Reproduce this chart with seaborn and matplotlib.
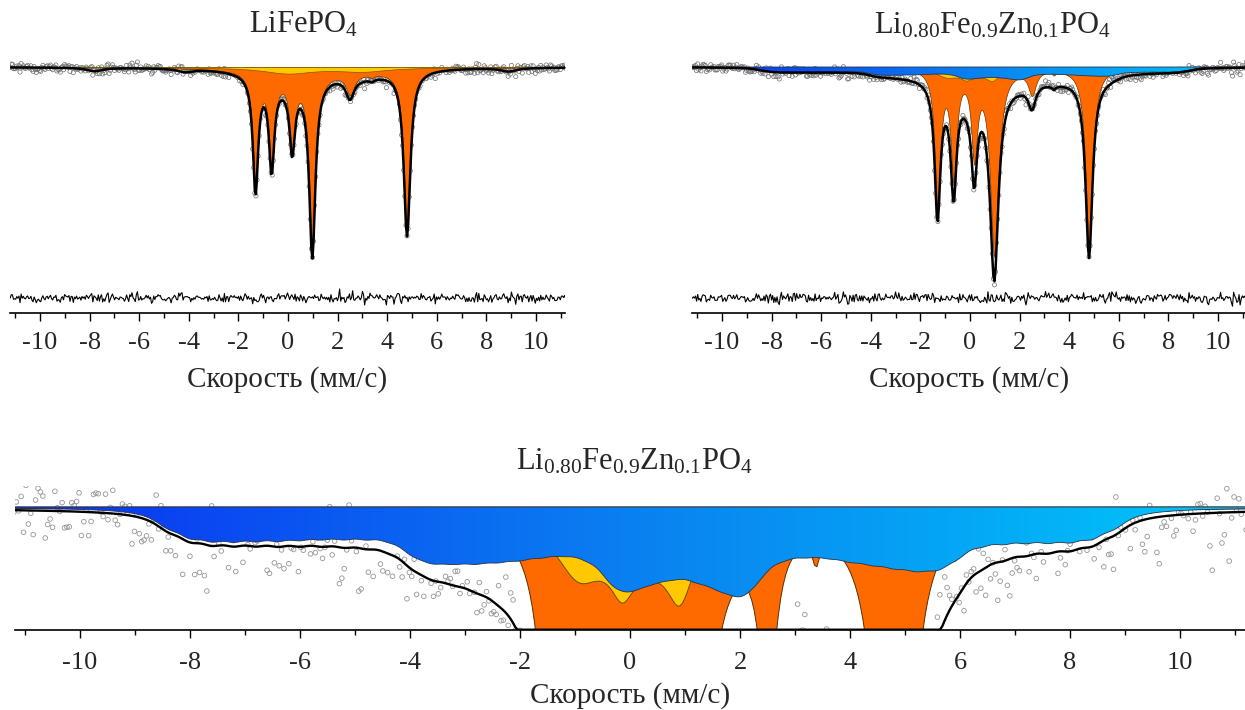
import numpy as np
import pandas as pd
import matplotlib
matplotlib.use("Agg")
import matplotlib.pyplot as plt
import seaborn as sns
from matplotlib.colors import LinearSegmentedColormap
from matplotlib.patches import PathPatch

# ------------------------------------------------------------------ data
velocity_ticks = [-10, -8, -6, -4, -2, 0, 2, 4, 6, 8, 10]
tick_labels = ["-10", "-8", "-6", "-4", "-2", "0", "2", "4", "6", "8", "10"]
minor_ticks = [-11, -9, -7, -5, -3, -1, 1, 3, 5, 7, 9, 11]
n_channels = 512
vel_range = (-11.2, 11.2)

# sharp Fe2+ lines (orange component), mm/s
orange_pos = [-1.31, -0.66, 0.17, 0.98, 2.50, 3.38, 4.80]

# LiFePO4 (% absorption, FWHM in mm/s)
lfp_orange_depth = [11.6, 8.9, 6.6, 17.6, 2.06, 0.25, 16.5]
lfp_orange_fwhm = [0.26, 0.26, 0.26, 0.30, 0.40, 0.20, 0.32]
lfp_broad_pos = [0.2, 3.3]
lfp_broad_depth = [0.9, 0.3]
lfp_broad_fwhm = [3.0, 2.6]
lfp_yellow_pos = [0.0, 3.0]
lfp_yellow_depth = [0.60, 0.40]
lfp_yellow_fwhm = [2.5, 2.5]
lfp_wing_pos = [-7.8, -4.15, 8.9]
lfp_wing_depth = [0.35, 0.30, 0.35]
lfp_wing_fwhm = [0.8, 0.7, 0.8]

# Li0.80Fe0.9Zn0.1PO4
lzf_orange_depth = [13.4, 10.6, 8.4, 18.6, 2.45, 0.35, 17.9]
lzf_orange_fwhm = [0.28, 0.28, 0.28, 0.40, 0.36, 0.15, 0.34]
lzf_yellow_pos = [0.3, -0.95, -0.15, 0.9]
lzf_yellow_depth = [0.72, 0.65, 0.5, 0.75]
lzf_yellow_fwhm = [2.5, 1.0, 0.5, 0.55]
lzf_extra_pos = [3.4]
lzf_extra_depth = [0.6]
lzf_extra_fwhm = [1.7]
# magnetic (blue) component: hyperfine splitting distribution
lzf_hf_split = [8.6, 8.2, 7.8, 7.4, 7.0, 6.6, 6.2, 5.8, 5.4, 5.0, 4.6,
                4.2, 3.8, 3.4, 3.0, 2.6, 2.2, 1.8, 1.4, 1.0, 0.6, 0.2]
lzf_hf_weight = [0.12, 0.19, 0.19, 0.18, 0.17, 0.17, 0.16, 0.15, 0.15, 0.14, 0.12,
                 0.11, 0.10, 0.09, 0.10, 0.10, 0.10, 0.10, 0.09, 0.09, 0.08, 0.06]
hf_step = 0.4
sextet_ratio = [3, 2, 1.0, 1.0, 2, 3]
sextet_factor = [-1.0, -0.579, -0.158, 0.158, 0.579, 1.0]
sextet_shift = [0.2, 0.95, 0.95, 0.95, 0.95, 0.2]
blue_fwhm = 0.62

noise_sigma = 0.25
residual_level = 76.9


def lorentz(x, pos, depth, fwhm):
    out = np.zeros_like(x)
    for p, d, w in zip(pos, depth, fwhm):
        out += d / (1.0 + ((x - p) / (w / 2.0)) ** 2)
    return out


def hf_distribution(x, splits, weights):
    out = np.zeros_like(x)
    for h, f in zip(splits, weights):
        for r, k, c in zip(sextet_ratio, sextet_factor, sextet_shift):
            area = f * hf_step * r
            depth = 2 * area / (np.pi * blue_fwhm)
            out += depth / (1.0 + ((x - (c + k * h)) / (blue_fwhm / 2.0)) ** 2)
    return out


v = np.linspace(vel_range[0], vel_range[1], n_channels)
rng = np.random.default_rng(11)

lfp_orange = lorentz(v, orange_pos, lfp_orange_depth, lfp_orange_fwhm) + \
    lorentz(v, lfp_broad_pos, lfp_broad_depth, lfp_broad_fwhm)
lfp_yellow = lorentz(v, lfp_yellow_pos, lfp_yellow_depth, lfp_yellow_fwhm)
lfp_wing = lorentz(v, lfp_wing_pos, lfp_wing_depth, lfp_wing_fwhm)
lfp_total = lfp_orange + lfp_yellow + lfp_wing
lfp_noise = rng.normal(0, noise_sigma, n_channels)

lzf_orange = lorentz(v, orange_pos, lzf_orange_depth, lzf_orange_fwhm)
lzf_yellow = lorentz(v, lzf_yellow_pos, lzf_yellow_depth, lzf_yellow_fwhm)
lzf_blue = hf_distribution(v, lzf_hf_split, lzf_hf_weight)
lzf_extra = lorentz(v, lzf_extra_pos, lzf_extra_depth, lzf_extra_fwhm)
lzf_total = lzf_orange + lzf_yellow + lzf_blue + lzf_extra
lzf_noise = rng.normal(0, noise_sigma, n_channels)

lfp = pd.DataFrame({"v": v, "fit": 100 - lfp_total, "data": 100 - lfp_total + lfp_noise,
                    "orange": 100 - lfp_orange, "yellow": 100 - lfp_yellow,
                    "resid": residual_level + lfp_noise})
lzf = pd.DataFrame({"v": v, "fit": 100 - lzf_total, "data": 100 - lzf_total + lzf_noise,
                    "orange": 100 - lzf_orange, "yellow": 100 - lzf_yellow,
                    "blue": 100 - lzf_blue, "resid": residual_level + lzf_noise})

# ------------------------------------------------------------------ style
sns.set_theme(style="ticks")
plt.rcParams["font.family"] = ["Liberation Serif", "DejaVu Serif"]
plt.rcParams["mathtext.fontset"] = "custom"
plt.rcParams["mathtext.rm"] = "Liberation Serif"
plt.rcParams["mathtext.it"] = "Liberation Serif:italic"

ORANGE = "#ff6a00"
YELLOW = "#ffc800"
blue_cmap = LinearSegmentedColormap.from_list("bl", ["#0a30f2", "#0a80f0", "#00c8fa"])

W, H = 1245, 710
fig = plt.figure(figsize=(W / 100, H / 100), dpi=100)


def px_axes(left, right, top, bottom):
    return fig.add_axes([left / W, (H - bottom) / H, (right - left) / W, (bottom - top) / H])


def style_axis(ax, xlim, ylim, labelsize, xlabelsize, pad, labelpad):
    ax.set_xlim(*xlim)
    ax.set_ylim(*ylim)
    for s in ["left", "right", "top"]:
        ax.spines[s].set_visible(False)
    ax.spines["bottom"].set_linewidth(1.2)
    ax.spines["bottom"].set_color("black")
    ax.set_yticks([])
    ax.set_xticks(velocity_ticks)
    ax.set_xticklabels(tick_labels)
    ax.set_xticks(minor_ticks, minor=True)
    ax.tick_params(axis="x", which="major", length=6, width=1.0, color="black",
                   labelsize=labelsize, pad=pad, direction="out")
    ax.tick_params(axis="x", which="minor", length=3.8, width=1.0, color="black", direction="out")
    ax.set_xlabel("Скорость (мм/с)", fontsize=xlabelsize, labelpad=labelpad)
    ax.set_ylabel("")
    ax.patch.set_alpha(0)


def gradient_fill(ax, x, y_top, y_bot, xlim, ylim, z):
    poly = ax.fill_between(x, y_top, y_bot, facecolor="none", edgecolor="#26324a",
                           linewidth=0.6, zorder=z + 0.1)
    grad = np.linspace(0, 1, 256).reshape(1, -1)
    img = ax.imshow(grad, extent=[xlim[0], xlim[1], ylim[0], ylim[1]], aspect="auto",
                    cmap=blue_cmap, zorder=z, origin="lower")
    patch = PathPatch(poly.get_paths()[0], transform=ax.transData, facecolor="none", edgecolor="none")
    img.set_clip_path(patch)


def scatter(ax, df, s, ec, lw, z):
    sns.scatterplot(data=df, x="v", y="data", ax=ax, marker="o", s=s, legend=False,
                    linewidth=lw, zorder=z)
    coll = ax.collections[-1]
    coll.set_facecolor("none")
    coll.set_edgecolor(ec)


# ---------------- top-left : LiFePO4
xlim_top = (-11.21, 11.17)
ylim_top = (75.4, 102.0)
ax1 = px_axes(10, 565, 47, 313)
scatter(ax1, lfp, 9, "#6e6e6e", 0.5, 1)
ax1.fill_between(v, 100, lfp["orange"], color=ORANGE, edgecolor="#6b3300", linewidth=0.5, zorder=2)
ax1.fill_between(v, 100, lfp["yellow"], color=YELLOW, edgecolor="#7a5a00", linewidth=0.5, zorder=3)
sns.lineplot(data=lfp, x="v", y="fit", ax=ax1, color="black", lw=1.8, sort=False, estimator=None, zorder=6)
sns.lineplot(data=lfp, x="v", y="resid", ax=ax1, color="black", lw=0.8, sort=False, estimator=None, zorder=6)
style_axis(ax1, xlim_top, ylim_top, 19, 21, 7.5, 9)

# ---------------- top-right : Li0.80Fe0.9Zn0.1PO4
ax2 = px_axes(692, 1247, 47, 313)
scatter(ax2, lzf, 9, "#6e6e6e", 0.5, 1)
ax2.fill_between(v, 100, lzf["orange"], color=ORANGE, edgecolor="#6b3300", linewidth=0.5, zorder=2)
ax2.fill_between(v, 100, lzf["yellow"], color=YELLOW, edgecolor="#7a5a00", linewidth=0.5, zorder=3)
gradient_fill(ax2, v, 100, lzf["blue"], xlim_top, ylim_top, 4)
sns.lineplot(data=lzf, x="v", y="fit", ax=ax2, color="black", lw=1.8, sort=False, estimator=None, zorder=6)
sns.lineplot(data=lzf, x="v", y="resid", ax=ax2, color="black", lw=0.8, sort=False, estimator=None, zorder=6)
style_axis(ax2, xlim_top, ylim_top, 19, 21, 7.5, 9)

# ---------------- bottom : zoomed Li0.80Fe0.9Zn0.1PO4
xlim_b = (-11.18, 11.18)
ylim_b = (100 - 1.757, 100.30)
ax3 = px_axes(15, 1245, 486, 630)
scatter(ax3, lzf, 11, "#959595", 0.6, 1)
ax3.fill_between(v, 100, lzf["orange"], color=ORANGE, edgecolor="#5a2c00", linewidth=0.7, zorder=2)
ax3.fill_between(v, 100, lzf["yellow"], color=YELLOW, edgecolor="#6b4f00", linewidth=0.7, zorder=3)
gradient_fill(ax3, v, 100, lzf["blue"], xlim_b, ylim_b, 4)
lzf_clip = lzf.assign(fit=np.maximum(lzf["fit"], ylim_b[0] + 0.004))
sns.lineplot(data=lzf_clip, x="v", y="fit", ax=ax3, color="black", lw=1.7, sort=False, estimator=None, zorder=6)
style_axis(ax3, xlim_b, ylim_b, 19, 21, 9.5, 6.5)

# ---------------- titles
fig.text(304 / W, 1 - 25 / H, r"LiFePO$_4$", ha="center", va="center", fontsize=22)
fig.text(992 / W, 1 - 26 / H, r"Li$_{0.80}$Fe$_{0.9}$Zn$_{0.1}$PO$_4$", ha="center", va="center", fontsize=22)
fig.text(634 / W, 1 - 462 / H, r"Li$_{0.80}$Fe$_{0.9}$Zn$_{0.1}$PO$_4$", ha="center", va="center", fontsize=22)

fig.savefig("out.png", dpi=100, facecolor="white")
